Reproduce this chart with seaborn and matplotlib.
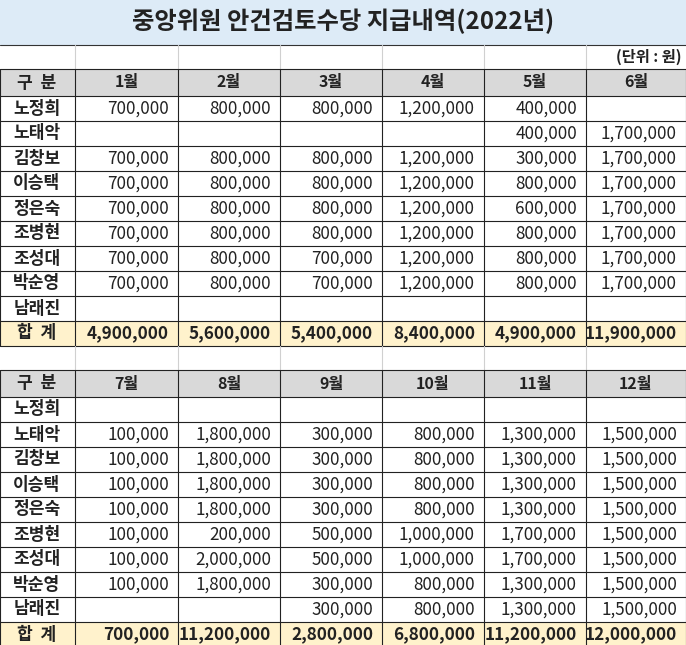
import matplotlib
matplotlib.use("Agg")
import matplotlib.pyplot as plt
import seaborn as sns
from matplotlib.patches import Rectangle

sns.set_theme(style="white")
plt.rcParams['font.family'] = ['Noto Sans CJK KR', 'DejaVu Sans']

title = "중앙위원 안건검토수당 지급내역(2022년)"
unit = "(단위 : 원)"
names = ["노정희", "노태악", "김창보", "이승택", "정은숙", "조병현", "조성대", "박순영", "남래진"]
months1 = ["1월", "2월", "3월", "4월", "5월", "6월"]
months2 = ["7월", "8월", "9월", "10월", "11월", "12월"]
vals1 = [
    [700000, 800000, 800000, 1200000, 400000, None],
    [None, None, None, None, 400000, 1700000],
    [700000, 800000, 800000, 1200000, 300000, 1700000],
    [700000, 800000, 800000, 1200000, 800000, 1700000],
    [700000, 800000, 800000, 1200000, 600000, 1700000],
    [700000, 800000, 800000, 1200000, 800000, 1700000],
    [700000, 800000, 700000, 1200000, 800000, 1700000],
    [700000, 800000, 700000, 1200000, 800000, 1700000],
    [None, None, None, None, None, None],
]
tot1 = [4900000, 5600000, 5400000, 8400000, 4900000, 11900000]
vals2 = [
    [None, None, None, None, None, None],
    [100000, 1800000, 300000, 800000, 1300000, 1500000],
    [100000, 1800000, 300000, 800000, 1300000, 1500000],
    [100000, 1800000, 300000, 800000, 1300000, 1500000],
    [100000, 1800000, 300000, 800000, 1300000, 1500000],
    [100000, 200000, 500000, 1000000, 1700000, 1500000],
    [100000, 2000000, 500000, 1000000, 1700000, 1500000],
    [100000, 1800000, 300000, 800000, 1300000, 1500000],
    [None, None, 300000, 800000, 1300000, 1500000],
]
tot2 = [700000, 11200000, 2800000, 6800000, 11200000, 12000000]

W, H = 686, 645
fig = plt.figure(figsize=(W/100, H/100), dpi=100)
ax = fig.add_axes([0, 0, 1, 1])
ax.set_xlim(0, W); ax.set_ylim(H, 0); ax.axis('off')

xe = [0, 75, 178, 280, 382, 484, 586, 686]
GRAY = "#D9D9D9"; YEL = "#FFF2CC"; BLUE = "#DDEBF7"; LG = "#D0D0D0"
NUMFS = 12.3

ax.add_patch(Rectangle((0, 0), W, 45, color=BLUE, lw=0))
ax.text(W/2, 21, title, ha='center', va='center', fontsize=17.5, fontweight='bold', color='#222')
ax.plot([0, W], [45, 45], color='#333', lw=0.8)

def blank_row(y0, y1):
    for x in xe[1:-1]:
        ax.plot([x, x], [y0, y1], color=LG, lw=0.8)

blank_row(45, 69)
ax.text(682, 57, unit, ha='right', va='center', fontsize=11, fontweight='bold', color='#222')

def fmt(v):
    return "" if v is None else f"{v:,}"

def table(top, months, vals, tot):
    hy1 = top + 27
    ax.add_patch(Rectangle((0, top), W, 27, color=GRAY, lw=0))
    ax.text(37, (top+hy1)/2, "구  분", ha='center', va='center', fontsize=12.3, fontweight='bold', color='#222')
    for i, m in enumerate(months):
        ax.text((xe[i+1]+xe[i+2])/2, (top+hy1)/2, m, ha='center', va='center', fontsize=11.5, fontweight='bold', color='#222')
    rh = 25
    rows = list(zip(names, vals)) + [("합  계", tot)]
    for r, (nm, row) in enumerate(rows):
        y0 = hy1 + r*rh
        bold = (r == len(rows)-1)
        if bold:
            ax.add_patch(Rectangle((0, y0), W, rh, color=YEL, lw=0))
        ax.text(37, y0+rh/2, nm, ha='center', va='center', fontsize=12.3, fontweight='bold', color='#222')
        for i, v in enumerate(row):
            ax.text(xe[i+2]-9, y0+rh/2, fmt(v), ha='right', va='center', fontsize=NUMFS,
                    fontweight='bold' if bold else 'normal', color='#222')
    bot = hy1 + len(rows)*rh
    for k in range(len(rows)+2):
        y = top if k == 0 else hy1 + (k-1)*rh
        ax.plot([0, W], [y, y], color='#222', lw=0.8)
    for x in xe:
        ax.plot([x, x], [top, bot], color='#222', lw=0.8)
    return bot

b = table(69, months1, vals1, tot1)
blank_row(b, 370)
table(370, months2, vals2, tot2)

fig.savefig("out.png", dpi=100)
